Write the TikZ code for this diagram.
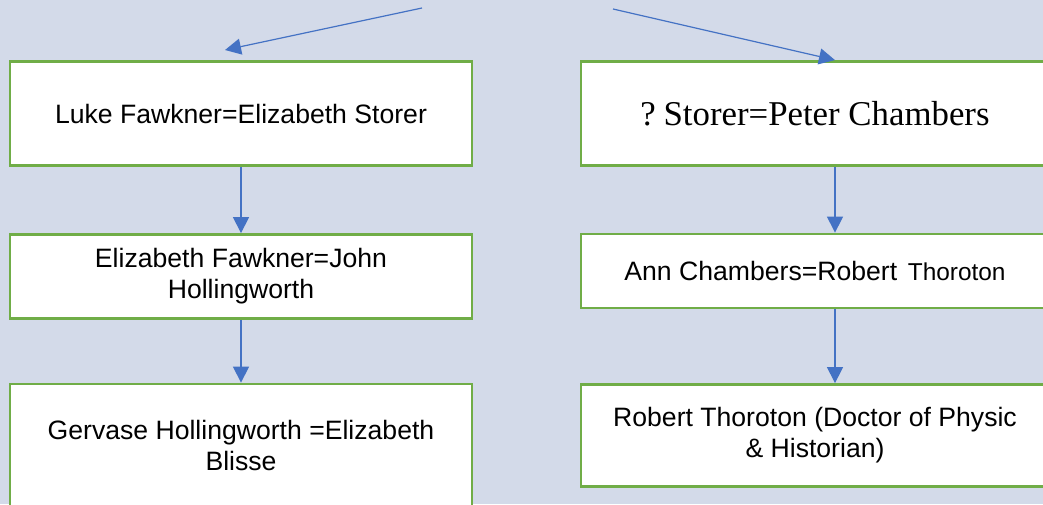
\documentclass[tikz,border=0pt]{standalone}
\usepackage{fontspec}
\setmainfont{Liberation Sans}
\newfontfamily\garafont{Liberation Serif}
\usetikzlibrary{arrows.meta}
\definecolor{bgblue}{RGB}{211,218,233}
\definecolor{boxgreen}{RGB}{112,173,71}
\definecolor{arrowblue}{RGB}{68,114,196}
\tikzset{
  person/.style={draw=boxgreen,line width=1.4pt,fill=white,align=center,
    inner sep=0pt,font=\fontsize{13.3pt}{15.5pt}\selectfont},
  link/.style={draw=arrowblue,line width=0.6pt,-{Triangle[length=8pt,width=8pt]}}
}
\begin{document}
\begin{tikzpicture}[x=0.5pt,y=-0.5pt]
				\fill[bgblue] (0,0) rectangle (1043,504);
				\useasboundingbox (0,0) rectangle (1043,504);

				% Fawkner line
				\node[person,minimum width=231pt,minimum height=52pt] (luke) at (241,113.5) {Luke Fawkner=Elizabeth Storer};
				\node[person,minimum width=231pt,minimum height=42pt] (eliz) at (241,276.5) {Elizabeth Fawkner=John\\Hollingworth};
				\node[person,minimum width=231pt,minimum height=61pt] (gerv) at (241,445) {Gervase Hollingworth =Elizabeth\\Blisse};

				% Chambers line
				\node[person,minimum width=234pt,minimum height=52pt,font=\garafont\fontsize{17.4pt}{20pt}\selectfont] (storer) at (815,113.5) {?\hspace{0.22em}Storer=Peter Chambers};
				\node[person,minimum width=234pt,minimum height=37pt] (ann) at (815,271) {Ann Chambers=Robert\hspace{0.4em}{\fontsize{12.2pt}{15pt}\selectfont Thoroton}};
				\node[person,minimum width=234pt,minimum height=51pt] (robert) at (815,435.5) {Robert Thoroton (Doctor of Physic\\\& Historian)};

				\coordinate (fromL) at (422,8);
				\coordinate (fromR) at (613,9);
				\coordinate (tipL) at (225,50);

				\draw[link] (fromL) -- (tipL);
				\draw[link] (fromR) -- ([xshift=10pt]storer.north);

				\draw[link] (luke.south) -- (eliz.north);
				\draw[link] (eliz.south) -- (gerv.north);
				\draw[link] ([xshift=10pt]storer.south) -- ([xshift=10pt]ann.north);
				\draw[link] ([xshift=10pt]ann.south) -- ([xshift=10pt]robert.north);

		\end{tikzpicture}
\end{document}
